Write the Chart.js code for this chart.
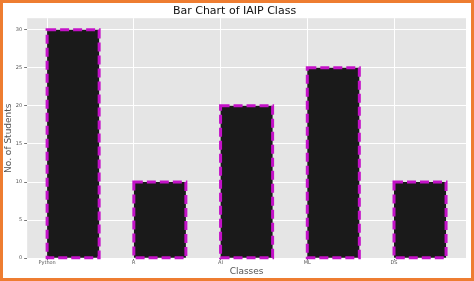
<!DOCTYPE html>
<html>
<head>
<meta charset="utf-8">
<script src="https://cdn.jsdelivr.net/npm/chart.js@4/dist/chart.umd.min.js"></script>
<style>
  html,body{margin:0;padding:0;background:#fff;}
  #wrap{width:468px;height:275px;border:3px solid #ee7d31;background:#fff;}
  canvas{display:block;}
</style>
</head>
<body>
<div id="wrap"><canvas id="chart" width="468" height="275"></canvas></div>
<script>
const classes = ['Python','R','AI','ML','DS'];
const students = [30, 10, 20, 25, 10];
const yTicks = [0, 5, 10, 15, 20, 25, 30];

// bars sit with their left edge on the tick (matplotlib align='edge')
const points = students.map((v,i)=>({x:i+0.3, y:v}));

// dashed magenta outline drawn from each bar element
const dashedBorder = {
  id:'dashedBorder',
  afterDatasetsDraw(chart){
    const ctx = chart.ctx;
    chart.getDatasetMeta(0).data.forEach(bar=>{
      const p = bar.getProps(['x','y','base','width'], true);
      const l = p.x - p.width/2, t = p.y;
      ctx.save();
      ctx.strokeStyle = '#c412c8';
      ctx.lineWidth = 3;
      ctx.setLineDash([9,4]);
      ctx.strokeRect(l, t, p.width, p.base - t);
      ctx.restore();
    });
  }
};

const bgPlugin = {
  id:'plotBg',
  beforeDraw(chart){
    const {ctx, chartArea:a} = chart;
    ctx.save(); ctx.fillStyle = '#e5e5e5';
    ctx.fillRect(a.left, a.top, a.right-a.left, a.bottom-a.top);
    ctx.restore();
  }
};

new Chart(document.getElementById('chart'), {
  type:'bar',
  data:{ datasets:[{ data:points, backgroundColor:'#1a1a1a', borderWidth:0,
    categoryPercentage:1, barPercentage:0.6 }] },
  options:{
    responsive:false, animation:false,
    layout:{ padding:{ left:0, right:5, top:0, bottom:0 } },
    plugins:{
      legend:{display:false}, tooltip:{enabled:false},
      title:{ display:true, text:'Bar Chart of IAIP Class', color:'#111',
        font:{family:'DejaVu Sans', size:11, weight:'normal'}, padding:{top:2, bottom:0} }
    },
    scales:{
      x:{ type:'linear', min:-0.23, max:4.83, offset:false,
        afterBuildTicks(s){ s.ticks = classes.map((c,i)=>({value:i})); },
        ticks:{ callback:(v)=>classes[v], color:'#555', font:{family:'DejaVu Sans', size:5}, padding:0, maxRotation:0, autoSkip:false },
        grid:{ color:'#ffffff', lineWidth:1, tickLength:2, tickColor:'#777', offset:false },
        border:{ display:false },
        title:{ display:true, text:'Classes', color:'#555', font:{family:'DejaVu Sans', size:9}, padding:{top:0, bottom:1} }
      },
      y:{ min:0, max:31.5,
        afterBuildTicks(s){ s.ticks = yTicks.map(v=>({value:v})); },
        ticks:{ color:'#555', font:{family:'DejaVu Sans', size:5}, padding:2 },
        grid:{ color:'#ffffff', lineWidth:1, tickLength:3, tickColor:'#777' },
        border:{ display:false },
        title:{ display:true, text:'No. of Students', color:'#555', font:{family:'DejaVu Sans', size:9}, padding:{top:0, bottom:0} }
      }
    }
  },
  plugins:[bgPlugin, dashedBorder]
});
</script>
</body>
</html>
